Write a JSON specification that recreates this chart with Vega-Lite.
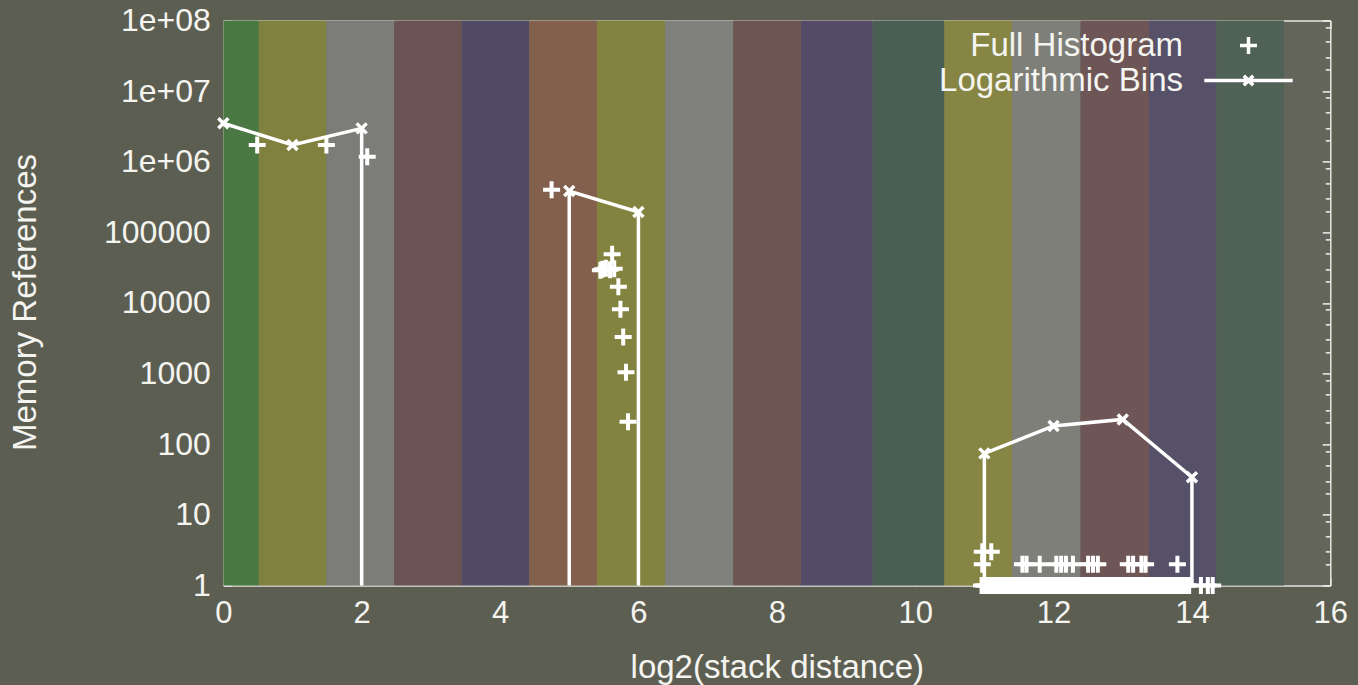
{
  "$schema": "https://vega.github.io/schema/vega-lite/v6.json",
  "width": 1107,
  "height": 565,
  "autosize": {"type": "none"},
  "padding": {"left": 223.3, "top": 20.4, "right": 27.7, "bottom": 99.6},
  "background": "#5d5e52",
  "datasets": {
    "bands": [
      {"x0": 0, "x1": 0.512, "band": "b01"},
      {"x0": 0.512, "x1": 1.488, "band": "b02"},
      {"x0": 1.488, "x1": 2.471, "band": "b03"},
      {"x0": 2.471, "x1": 3.45, "band": "b04"},
      {"x0": 3.45, "x1": 4.42, "band": "b05"},
      {"x0": 4.42, "x1": 5.4, "band": "b06"},
      {"x0": 5.4, "x1": 6.383, "band": "b07"},
      {"x0": 6.383, "x1": 7.37, "band": "b08"},
      {"x0": 7.37, "x1": 8.35, "band": "b09"},
      {"x0": 8.35, "x1": 9.385, "band": "b10"},
      {"x0": 9.385, "x1": 10.42, "band": "b11"},
      {"x0": 10.42, "x1": 11.4, "band": "b12"},
      {"x0": 11.4, "x1": 12.39, "band": "b13"},
      {"x0": 12.39, "x1": 13.38, "band": "b14"},
      {"x0": 13.38, "x1": 14.35, "band": "b15"},
      {"x0": 14.35, "x1": 15.33, "band": "b16"}
    ],
    "bins": [
      {"seg": "a", "ord": 1, "x": 0, "y": 3500000},
      {"seg": "a", "ord": 2, "x": 1, "y": 1720000},
      {"seg": "a", "ord": 3, "x": 2, "y": 2960000},
      {"seg": "a", "ord": 4, "x": 2, "y": 1},
      {"seg": "b", "ord": 1, "x": 5, "y": 1},
      {"seg": "b", "ord": 2, "x": 5, "y": 384000},
      {"seg": "b", "ord": 3, "x": 6, "y": 193000},
      {"seg": "b", "ord": 4, "x": 6, "y": 1},
      {"seg": "c", "ord": 1, "x": 11, "y": 1},
      {"seg": "c", "ord": 2, "x": 11, "y": 74},
      {"seg": "c", "ord": 3, "x": 12, "y": 181},
      {"seg": "c", "ord": 4, "x": 13, "y": 224},
      {"seg": "c", "ord": 5, "x": 14, "y": 34},
      {"seg": "c", "ord": 6, "x": 14, "y": 1}
    ],
    "hist": [
      {"x": 0.49, "y": 1720000}, {"x": 1.49, "y": 1720000}, {"x": 2.08, "y": 1170000},
      {"x": 4.745, "y": 400000},
      {"x": 5.45, "y": 29000}, {"x": 5.48, "y": 30000}, {"x": 5.53, "y": 31000}, {"x": 5.59, "y": 29500}, {"x": 5.65, "y": 30500},
      {"x": 5.62, "y": 49000}, {"x": 5.71, "y": 16900}, {"x": 5.74, "y": 8100}, {"x": 5.78, "y": 3300}, {"x": 5.82, "y": 1040}, {"x": 5.85, "y": 207},
      {"x": 10.97, "y": 3}, {"x": 11.1, "y": 3},
      {"x": 10.97, "y": 2}, {"x": 11.55, "y": 2}, {"x": 11.61, "y": 2}, {"x": 11.8, "y": 2}, {"x": 12.04, "y": 2}, {"x": 12.11, "y": 2},
      {"x": 12.18, "y": 2}, {"x": 12.28, "y": 2}, {"x": 12.5, "y": 2}, {"x": 12.57, "y": 2}, {"x": 12.64, "y": 2}, {"x": 13.08, "y": 2},
      {"x": 13.15, "y": 2}, {"x": 13.27, "y": 2}, {"x": 13.33, "y": 2}, {"x": 13.79, "y": 2},
      {"x": 10.96, "y": 1}, {"x": 10.99, "y": 1}, {"x": 11.02, "y": 1}, {"x": 11.05, "y": 1}, {"x": 11.08, "y": 1}, {"x": 11.11, "y": 1},
      {"x": 11.14, "y": 1}, {"x": 11.17, "y": 1}, {"x": 11.2, "y": 1}, {"x": 11.23, "y": 1}, {"x": 11.26, "y": 1}, {"x": 11.29, "y": 1},
      {"x": 11.32, "y": 1}, {"x": 11.35, "y": 1}, {"x": 11.38, "y": 1}, {"x": 11.41, "y": 1}, {"x": 11.44, "y": 1}, {"x": 11.47, "y": 1},
      {"x": 11.5, "y": 1}, {"x": 11.53, "y": 1}, {"x": 11.56, "y": 1}, {"x": 11.59, "y": 1}, {"x": 11.62, "y": 1}, {"x": 11.65, "y": 1},
      {"x": 11.68, "y": 1}, {"x": 11.71, "y": 1}, {"x": 11.74, "y": 1}, {"x": 11.77, "y": 1}, {"x": 11.8, "y": 1}, {"x": 11.83, "y": 1},
      {"x": 11.86, "y": 1}, {"x": 11.89, "y": 1}, {"x": 11.92, "y": 1}, {"x": 11.95, "y": 1}, {"x": 11.98, "y": 1}, {"x": 12.01, "y": 1},
      {"x": 12.04, "y": 1}, {"x": 12.07, "y": 1}, {"x": 12.1, "y": 1}, {"x": 12.13, "y": 1}, {"x": 12.16, "y": 1}, {"x": 12.19, "y": 1},
      {"x": 12.22, "y": 1}, {"x": 12.25, "y": 1}, {"x": 12.28, "y": 1}, {"x": 12.31, "y": 1}, {"x": 12.34, "y": 1}, {"x": 12.37, "y": 1},
      {"x": 12.4, "y": 1}, {"x": 12.43, "y": 1}, {"x": 12.46, "y": 1}, {"x": 12.49, "y": 1}, {"x": 12.52, "y": 1}, {"x": 12.55, "y": 1},
      {"x": 12.58, "y": 1}, {"x": 12.61, "y": 1}, {"x": 12.64, "y": 1}, {"x": 12.67, "y": 1}, {"x": 12.7, "y": 1}, {"x": 12.73, "y": 1},
      {"x": 12.76, "y": 1}, {"x": 12.79, "y": 1}, {"x": 12.82, "y": 1}, {"x": 12.85, "y": 1}, {"x": 12.88, "y": 1}, {"x": 12.91, "y": 1},
      {"x": 12.94, "y": 1}, {"x": 12.97, "y": 1}, {"x": 13.0, "y": 1}, {"x": 13.03, "y": 1}, {"x": 13.06, "y": 1}, {"x": 13.09, "y": 1},
      {"x": 13.12, "y": 1}, {"x": 13.15, "y": 1}, {"x": 13.18, "y": 1}, {"x": 13.21, "y": 1}, {"x": 13.24, "y": 1}, {"x": 13.27, "y": 1},
      {"x": 13.3, "y": 1}, {"x": 13.33, "y": 1}, {"x": 13.36, "y": 1}, {"x": 13.39, "y": 1}, {"x": 13.42, "y": 1}, {"x": 13.45, "y": 1},
      {"x": 13.48, "y": 1}, {"x": 13.51, "y": 1}, {"x": 13.54, "y": 1}, {"x": 13.57, "y": 1}, {"x": 13.6, "y": 1}, {"x": 13.63, "y": 1},
      {"x": 13.66, "y": 1}, {"x": 13.69, "y": 1}, {"x": 13.72, "y": 1}, {"x": 13.75, "y": 1}, {"x": 13.78, "y": 1}, {"x": 13.81, "y": 1},
      {"x": 13.84, "y": 1}, {"x": 13.87, "y": 1}, {"x": 13.9, "y": 1}, {"x": 13.93, "y": 1}, {"x": 13.96, "y": 1},
      {"x": 14.13, "y": 1}, {"x": 14.23, "y": 1}, {"x": 14.3, "y": 1}
    ]
  },
  "layer": [
    {
      "data": {"name": "bands"},
      "mark": {"type": "rect"},
      "encoding": {
        "x": {
          "field": "x0", "type": "quantitative",
          "scale": {"domain": [0, 16], "nice": false, "zero": false},
          "axis": {
            "orient": "bottom", "values": [0, 2, 4, 6, 8, 10, 12, 14, 16],
            "title": "log2(stack distance)", "labelFlush": false,
            "tickSize": -8, "labelPadding": 21, "labelBaseline": "top",
            "titleBaseline": "alphabetic", "titleY": 92, "titleX": 553.5, "titleAlign": "center"
          }
        },
        "x2": {"field": "x1"},
        "color": {
          "field": "band", "type": "nominal", "legend": null,
          "scale": {
            "domain": ["b01","b02","b03","b04","b05","b06","b07","b08","b09","b10","b11","b12","b13","b14","b15","b16"],
            "range": ["#4a7842","#80803f","#7c7d78","#6a5352","#514a67","#82604d","#838340","#80817c","#6d5554","#534b67","#4a5f53","#868543","#7e7f79","#6f5656","#565068","#506155"]
          }
        }
      }
    },
    {
      "data": {"name": "bins"},
      "mark": {"type": "line", "color": "#ffffff", "strokeWidth": 3.5},
      "encoding": {
        "x": {
          "field": "x", "type": "quantitative",
          "axis": {"orient": "top", "values": [0, 2, 4, 6, 8, 10, 12, 14, 16], "labels": false, "title": null, "tickSize": -8}
        },
        "y": {
          "field": "y", "type": "quantitative",
          "scale": {"type": "log", "domain": [1, 100000000], "nice": false},
          "axis": {
            "orient": "left",
            "values": [1, 2, 3, 5, 8, 10, 20, 30, 50, 80, 100, 200, 300, 500, 800, 1000, 2000, 3000, 5000, 8000, 10000, 20000, 30000, 50000, 80000, 100000, 200000, 300000, 500000, 800000, 1000000, 2000000, 3000000, 5000000, 8000000, 10000000, 20000000, 30000000, 50000000, 80000000, 100000000],
            "labelExpr": "abs(log(datum.value)/LN10 - round(log(datum.value)/LN10)) < 0.001 ? (datum.value >= 1000000 ? '1e+0' + format(round(log(datum.value)/LN10), 'd') : format(datum.value, 'd')) : ''",
            "tickSize": {"condition": {"test": "abs(log(datum.value)/LN10 - round(log(datum.value)/LN10)) < 0.001", "value": -8}, "value": -5},
            "labelPadding": 21, "labelFontSize": 32,
            "title": "Memory References",
            "titleAngle": -90, "titleBaseline": "alphabetic", "titleAlign": "center",
            "titleX": -188, "titleY": 281.6
          }
        },
        "detail": {"field": "seg"},
        "order": {"field": "ord"}
      }
    },
    {
      "data": {"name": "bins"},
      "transform": [{"filter": "datum.y > 1"}],
      "mark": {"type": "point", "filled": false, "stroke": "#ffffff", "strokeWidth": 3.5, "size": 100, "opacity": 1, "shape": "M-1,-1L1,1M-1,1L1,-1"},
      "encoding": {
        "x": {"field": "x", "type": "quantitative", "axis": null},
        "y": {"field": "y", "type": "quantitative", "axis": null}
      }
    },
    {
      "data": {"name": "hist"},
      "mark": {"type": "point", "filled": false, "stroke": "#ffffff", "strokeWidth": 4, "size": 289, "opacity": 1},
      "encoding": {
        "x": {"field": "x", "type": "quantitative", "axis": null},
        "y": {
          "field": "y", "type": "quantitative",
          "axis": {
            "orient": "right", "labels": false, "title": null,
            "values": [1, 2, 3, 5, 8, 10, 20, 30, 50, 80, 100, 200, 300, 500, 800, 1000, 2000, 3000, 5000, 8000, 10000, 20000, 30000, 50000, 80000, 100000, 200000, 300000, 500000, 800000, 1000000, 2000000, 3000000, 5000000, 8000000, 10000000, 20000000, 30000000, 50000000, 80000000, 100000000],
            "tickSize": {"condition": {"test": "abs(log(datum.value)/LN10 - round(log(datum.value)/LN10)) < 0.001", "value": -8}, "value": -5}
          }
        },
        "shape": {
          "datum": "Full Histogram", "type": "nominal",
          "scale": {
            "domain": ["Full Histogram", "Logarithmic Bins"],
            "range": ["M-1,0L1,0M0,-1L0,1", "M-5.2,0L5.2,0M-0.55,-0.55L0.55,0.55M-0.55,0.55L0.55,-0.55"]
          },
          "legend": {
            "title": null, "orient": "none", "legendX": 1008.7, "legendY": 8.6,
            "padding": 0, "symbolSize": 289, "symbolStrokeWidth": 3.5,
            "symbolStrokeColor": "#ffffff", "symbolFillColor": "transparent", "symbolOpacity": 1,
            "labelAlign": "right", "labelOffset": -82, "labelLimit": 600,
            "labelFontSize": 33, "labelColor": "#f4f4f0", "labelFont": "Liberation Sans",
            "rowPadding": 1
          }
        }
      }
    }
  ],
  "resolve": {"axis": {"x": "independent", "y": "independent"}},
  "config": {
    "font": "Liberation Sans",
    "view": {"fill": "#63645a", "stroke": null},
    "axis": {
      "grid": false, "zindex": 1,
      "domain": true, "domainColor": "#e4e6e0", "domainWidth": 1.5,
      "tickColor": "#f0f0f0", "tickWidth": 1.5,
      "labelFont": "Liberation Sans", "labelFontSize": 31, "labelColor": "#f4f4f0",
      "titleFont": "Liberation Sans", "titleFontSize": 33, "titleFontWeight": "normal", "titleColor": "#f4f4f0"
    }
  }
}
